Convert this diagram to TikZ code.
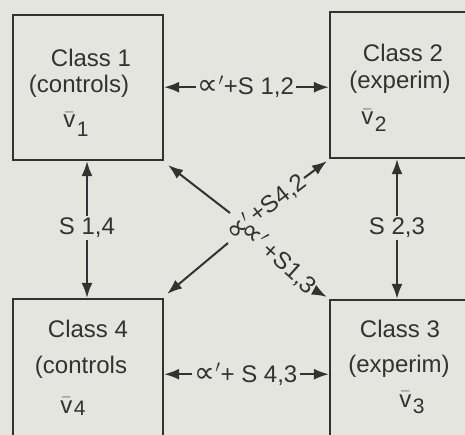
\documentclass[tikz,border=0pt]{standalone}
\usepackage{fontspec}
\setmainfont{Liberation Sans}
\newfontfamily\dvs{DejaVu Sans}
\usetikzlibrary{arrows.meta}
\definecolor{paper}{RGB}{229,229,223}
\definecolor{ink}{RGB}{50,50,50}
\newcommand\vb[2]{$\bar{\mbox{v}}$\hspace{1.5pt}\raisebox{-#2}{\fontsize{21}{21}\selectfont #1}}
\newcommand\prop{{\dvs\fontsize{29}{29}\selectfont ∝}}
\begin{document}
\begin{tikzpicture}[x=1pt,y=-1pt,
  box/.style={draw=ink,line width=2.2pt,inner sep=0pt},
  txt/.style={text=ink,font=\fontsize{24}{28}\selectfont,anchor=base,inner sep=0pt},
  lab/.style={text=ink,font=\fontsize{24}{28}\selectfont,inner sep=2pt},
  dlab/.style={text=ink,font=\fontsize{24}{28}\selectfont,inner sep=1pt},
  arr/.style={draw=ink,line width=2pt,-{Latex[length=15pt,width=11pt]}}]
\useasboundingbox[fill=paper] (0,0) rectangle (465,435);
\clip (0,0) rectangle (465,435);
% boxes
\node[box,minimum width=150pt,minimum height=145pt] (b1) at (88,87.5) {};
\node[box,minimum width=140pt,minimum height=146pt] (b2) at (400,85) {};
\node[box,minimum width=150pt,minimum height=146pt] (b4) at (88,372) {};
\node[box,minimum width=140pt,minimum height=146pt] (b3) at (400,373) {};
% box texts
\node[txt] (c1) at (91,67) {Class 1};
\node[txt] (k1) at (79,93) {(controls)};
\node[txt] (v1) at (76,128) {\vb{1}{9pt}};
\node[txt] (c2) at (403,62) {Class 2};
\node[txt] (k2) at (400,89) {(experim)};
\node[txt] (v2) at (374,125) {\vb{2}{7pt}};
\node[txt] (c4) at (88,337) {Class 4};
\node[txt] (k4) at (81,373) {(controls};
\node[txt] (v4) at (73,413) {\vb{4}{2pt}};
\node[txt] (c3) at (400,337) {Class 3};
\node[txt] (k3) at (399,372) {(experim)};
\node[txt] (v3) at (412,407) {\vb{3}{6pt}};
% horizontal connectors
\node[lab,anchor=base] (l12) at (246,95) {\prop$'$+S 1,2};
\draw[arr] (l12.west) -- (b1.east |- l12.west);
\draw[arr] (l12.east) -- (b2.west |- l12.east);
\node[lab,anchor=base] (l43) at (246,382) {\prop$'$+ S 4,3};
\draw[arr] (l43.west) -- (b4.east |- l43.west);
\draw[arr] (l43.east) -- (b3.west |- l43.east);
% vertical connectors
\node[lab,anchor=base] (l14) at (87,235) {S 1,4};
\draw[arr] (l14.north) -- (b1.south -| l14.north);
\draw[arr] (l14.south) -- (b4.north -| l14.south);
\node[lab,anchor=base] (l23) at (397,235) {S 2,3};
\draw[arr] (l23.north) -- (b2.south -| l23.north);
\draw[arr] (l23.south) -- (b3.north -| l23.south);
% diagonal connectors
\coordinate (d1) at (230,213);
\coordinate (d4) at (228,243);
\draw[arr] (d1) -- ([shift={(4,4)}]b1.south east);
\draw[arr] (d4) -- ([shift={(3,-4)}]b4.north east);
\node[dlab,rotate=38,anchor=east] (l42) at (304,178) {\prop$'$\,+S4,2};
\draw[arr] (l42.east) -- ([shift={(-2,2)}]b2.south west);
\node[dlab,rotate=-42,anchor=east] (l13) at (314,290) {\prop$'$\,+S1,3};
\draw[arr] (l13.east) -- ([shift={(-2,-2)}]b3.north west);
\end{tikzpicture}
\end{document}
